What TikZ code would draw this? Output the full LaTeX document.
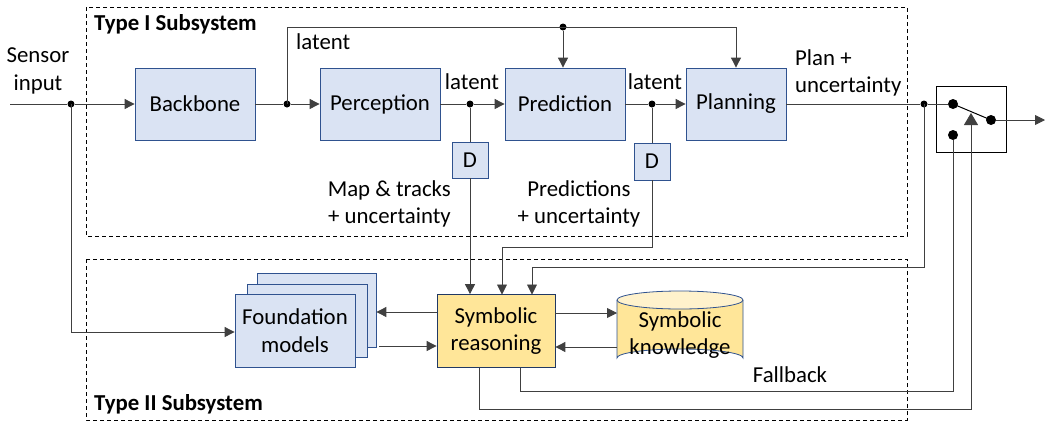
\documentclass[tikz,border=0pt]{standalone}
\usepackage{fontspec}
\setmainfont{Carlito}
\usetikzlibrary{arrows.meta}
\begin{document}
\begin{tikzpicture}[x=1pt,y=-1pt,
  every node/.style={font=\fontsize{22.8}{27.5}\selectfont},
  blk/.style={draw=blue!45!black,line width=0.8pt,inner sep=0pt},
  ybox/.style={draw=blue!30!black!80,line width=0.8pt,inner sep=0pt,align=center},
  ln/.style={draw=black!75,line width=0.9pt},
  arr/.style={ln,-{Triangle[length=10pt,width=10pt]}},
  dot/.style={circle,fill=black,inner sep=0pt,minimum size=7pt},
  bigdot/.style={circle,fill=black,inner sep=0pt,minimum size=10pt},
  sub/.style={draw=black,line width=0.9pt,dash pattern=on 4pt off 3pt},
  lbl/.style={inner sep=0pt,align=center}]
\useasboundingbox (0,0) rectangle (1045,426);
\definecolor{bfill}{HTML}{DAE3F3}
\definecolor{bdraw}{HTML}{2F528F}
\definecolor{yfill}{HTML}{FFE699}
\definecolor{ytop}{HTML}{FFF2CC}
\tikzset{blk/.append style={fill=bfill,draw=bdraw},ybox/.append style={fill=yfill,draw=bdraw!70!black}}
% subsystem boxes
\draw[sub] (86,7) rectangle (907,236);
\draw[sub] (86,259) rectangle (907,420);
\node[lbl,anchor=west,font=\fontsize{22.8}{27}\selectfont\bfseries] (t1) at (94,24) {Type I Subsystem};
\node[lbl,anchor=west,font=\fontsize{22.8}{27}\selectfont\bfseries] (t2) at (94,404) {Type II Subsystem};
% blocks
\node[blk,minimum width=120pt,minimum height=72pt] (backbone) at (195,104) {Backbone};
\node[blk,minimum width=120pt,minimum height=72pt] (perception) at (380,104) {Perception};
\node[blk,minimum width=120pt,minimum height=72pt] (prediction) at (565,104) {Prediction};
\node[blk,minimum width=100pt,minimum height=72pt] (planning) at (736,104) {Planning};
\node[blk,minimum width=36pt,minimum height=36pt] (d1) at (470,160) {D};
\node[blk,minimum width=36pt,minimum height=37pt] (d2) at (652,161.5) {D};
% foundation stack
\node[blk,minimum width=119pt,minimum height=74pt] (fm3) at (316.5,310) {};
\node[blk,minimum width=120pt,minimum height=73pt] (fm2) at (307,320.5) {};
\node[blk,minimum width=120pt,minimum height=73pt,align=center] (fm) at (295,330.5) {Foundation\\models};
\node[ybox,minimum width=118pt,minimum height=73pt] (sr) at (496,331) {Symbolic\\reasoning};
% cylinder
\fill[yfill] (617,300) -- (617,358) arc[start angle=180,end angle=360,x radius=63,y radius=9] -- (743,300) -- cycle;
\fill[ytop] (680,300) ellipse[x radius=63,y radius=9];
\draw[draw=bdraw,line width=0.8pt] (617,300) -- (617,358) arc[start angle=180,end angle=360,x radius=63,y radius=9] -- (743,300);
\draw[draw=bdraw,line width=0.8pt] (680,300) ellipse[x radius=63,y radius=9];
\node[lbl,font=\fontsize{22.8}{27}\selectfont] (sk) at (680,335) {Symbolic\\knowledge};
\coordinate (skw1) at (617,313);
\coordinate (skw2) at (617,347);
% switch
\node[draw=black,line width=1pt,minimum width=70pt,minimum height=66pt,inner sep=0pt] (sw) at (971,119) {};
\node[bigdot] (swin) at (953,104) {};
\node[bigdot] (swout) at (991,120) {};
\node[bigdot] (swlow) at (953,135) {};
\draw[line width=1pt] (swin.center) -- (swout.center);
\coordinate (swtri) at (971,113);
\coordinate (outend) at (1045,120);
% dots
\node[dot] (s1) at (71,104) {};
\node[dot] (b1) at (287,104) {};
\node[dot] (top) at (563,27) {};
\node[dot] (p1) at (470,104) {};
\node[dot] (p2) at (652,104) {};
\node[dot] (o1) at (924,104) {};
\coordinate (in) at (10,104);
% top row connectors
\draw[ln] (in) -- (s1);
\draw[arr] (s1) -- (backbone.west);
\draw[ln] (backbone.east) -- (b1);
\draw[arr] (b1) -- (perception.west);
\draw[arr] (b1.center) -- (287,27) -- (736,27) -- (planning.north);
\draw[arr] (top) -- (top |- prediction.north);
\draw[ln] (perception.east) -- (p1);
\draw[arr] (p1) -- (prediction.west);
\draw[ln] (p1) -- (d1.north);
\draw[ln] (prediction.east) -- (p2);
\draw[arr] (p2) -- (planning.west);
\draw[ln] (p2) -- (d2.north);
\draw[ln] (planning.east) -- (o1);
\draw[ln] (o1) -- (swin);
% down to type II
\draw[arr] (d1.south) -- (d1 |- sr.north);
\draw[arr] (d2.south) -- (652,247) -- (502,247) -- (502,294.5);
\draw[arr] (o1.center) -- (924,267) -- (532,267) -- (532,294.5);
\draw[arr] (s1.center) -- (71,332) -- (fm.west |- 0,332);
\draw[arr] (sr.west |- 0,312) -- (fm3.east |- 0,312);
\draw[arr] (379,346) -- (sr.west |- 0,346);
\draw[arr] (sr.east |- skw1) -- (skw1);
\draw[arr] (skw2) -- (sr.east |- skw2);
% feedback to switch
\draw[ln] (520,367.5) -- (520,391) -- (953,391) -- (swlow);
\draw[ln,-{Triangle[length=12pt,width=14pt]}] (479,367.5) -- (479,409) -- (971,409) -- (swtri);
\draw[arr] (swout) -- (outend);
% labels
\node[lbl] (lsensor) at (38,71) {Sensor\\input};
\node[lbl,anchor=west] (llat1) at (296,42) {latent};
\node[lbl] (llat2) at (472,82) {latent};
\node[lbl] (llat3) at (655,82) {latent};
\node[lbl,align=left,anchor=west] (lplan) at (795,73) {Plan +\\uncertainty};
\node[lbl,align=right,anchor=east] (lmap) at (451,204) {Map \& tracks\\+ uncertainty};
\node[lbl] (lpred) at (579,204) {Predictions\\+ uncertainty};
\node[lbl] (lfall) at (790,375) {Fallback};
\end{tikzpicture}
\end{document}
